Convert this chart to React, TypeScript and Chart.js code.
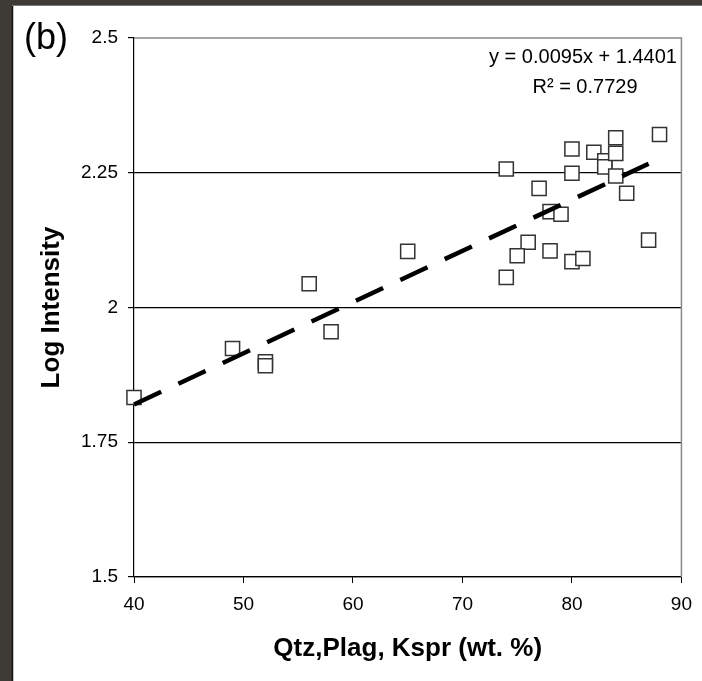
import React, { useEffect, useRef } from "react";
import { Chart, registerables } from "chart.js";

Chart.register(...registerables);

// Data
const xValues = [40, 49, 52, 52, 56, 58, 65, 74, 74, 77, 76, 75, 78, 79, 78, 80, 80, 80, 81, 82, 83, 83, 84, 84, 84, 85, 87, 88];
const yValues = [1.833, 1.924, 1.899, 1.892, 2.044, 1.955, 2.104, 2.257, 2.056, 2.221, 2.121, 2.096, 2.178, 2.173, 2.105, 2.294, 2.249, 2.085, 2.091, 2.288, 2.272, 2.261, 2.315, 2.286, 2.244, 2.212, 2.125, 2.321];

// Trend line (from the equation in the chart)
const trendSlope = 0.0095;
const trendIntercept = 1.4401;
const trendX = [40, 87];

const xTicks = [40, 50, 60, 70, 80, 90];
const yTicks = [1.5, 1.75, 2, 2.25, 2.5];

const equationText = "y = 0.0095x + 1.4401";
const r2Text = "R\u00B2 = 0.7729";
const panelLabel = "(b)";
const xTitle = "Qtz,Plag, Kspr (wt. %)";
const yTitle = "Log Intensity";

const FONT = "'Liberation Sans', Arial, sans-serif";

export default function App() {
  const ref = useRef<HTMLCanvasElement | null>(null);

  useEffect(() => {
    const canvas = ref.current;
    if (!canvas) return;

    const framePlugin = {
      id: "frame",
      beforeDraw(chart: any) {
        const ctx = chart.ctx;
        ctx.save();
        ctx.fillStyle = "#3e3a35";
        ctx.fillRect(0, 0, chart.width, chart.height);
        ctx.fillStyle = "#ffffff";
        ctx.fillRect(13, 5, chart.width - 13, chart.height - 5);
        ctx.strokeStyle = "#111";
        ctx.lineWidth = 1.5;
        ctx.beginPath();
        ctx.moveTo(12.5, 5);
        ctx.lineTo(12.5, chart.height);
        ctx.stroke();
        ctx.strokeStyle = "#777";
        ctx.lineWidth = 1;
        ctx.beginPath();
        ctx.moveTo(12, 5.5);
        ctx.lineTo(chart.width, 5.5);
        ctx.stroke();
        ctx.restore();
      },
      afterDraw(chart: any) {
        const ctx = chart.ctx;
        const a = chart.chartArea;
        ctx.save();
        ctx.strokeStyle = "#8a8a8a";
        ctx.lineWidth = 1.5;
        ctx.beginPath();
        ctx.moveTo(a.left, a.top);
        ctx.lineTo(a.right, a.top);
        ctx.lineTo(a.right, a.bottom);
        ctx.stroke();

        ctx.fillStyle = "#000";
        ctx.textAlign = "center";
        ctx.textBaseline = "middle";
        ctx.font = `20px ${FONT}`;
        ctx.fillText(equationText, 583, 57);
        ctx.fillText(r2Text, 585, 87);

        ctx.textAlign = "left";
        ctx.font = `36px ${FONT}`;
        ctx.fillText(panelLabel, 24, 39);
        ctx.restore();
      },
    };

    const chart = new Chart(canvas, {
      type: "scatter",
      data: {
        datasets: [
          {
            type: "line",
            label: "trend",
            data: trendX.map((x) => ({ x, y: trendSlope * x + trendIntercept })),
            borderColor: "#000",
            borderWidth: 4.5,
            borderDash: [30, 19],
            pointRadius: 0,
            fill: false,
            clip: false,
            order: 0,
          } as any,
          {
            label: "data",
            data: xValues.map((x, i) => ({ x, y: yValues[i] })),
            pointStyle: "rect",
            pointRadius: 10,
            pointBorderWidth: 1.5,
            pointBorderColor: "#333",
            pointBackgroundColor: "#fff",
            clip: false,
            order: 1,
          } as any,
        ],
      },
      options: {
        responsive: false,
        animation: false,
        events: [],
        layout: { padding: { left: 0, top: 38, right: 17, bottom: 0 } },
        plugins: {
          legend: { display: false },
          tooltip: { enabled: false },
        },
        scales: {
          x: {
            type: "linear",
            min: 40,
            max: 90,
            afterBuildTicks: (s: any) => {
              s.ticks = xTicks.map((v) => ({ value: v }));
            },
            afterFit: (s: any) => {
              s.height = 104;
            },
            ticks: {
              color: "#000",
              font: { family: FONT, size: 19 },
              padding: 10,
              callback: (v: any) => String(v),
            },
            grid: {
              drawOnChartArea: false,
              drawTicks: true,
              tickLength: 6,
              tickColor: "#000",
            },
            border: { display: true, color: "#000", width: 1.2 },
            title: {
              display: true,
              text: xTitle,
              color: "#000",
              font: { family: FONT, size: 26, weight: "bold" },
              padding: { top: 0, bottom: 17 },
            },
          },
          y: {
            type: "linear",
            min: 1.5,
            max: 2.5,
            afterBuildTicks: (s: any) => {
              s.ticks = yTicks.map((v) => ({ value: v }));
            },
            afterFit: (s: any) => {
              s.width = 134;
            },
            ticks: {
              color: "#000",
              font: { family: FONT, size: 19 },
              padding: 10,
              callback: (v: any) => String(v),
            },
            grid: {
              drawTicks: true,
              tickLength: 6,
              tickColor: "#000",
              lineWidth: 1.2,
              color: (c: any) => (c.tick && c.tick.value === 2.5 ? "rgba(0,0,0,0)" : "#000"),
            },
            border: { display: true, color: "#000", width: 1.2 },
            title: {
              display: true,
              text: yTitle,
              color: "#000",
              font: { family: FONT, size: 26, weight: "bold" },
              padding: { top: 36, bottom: 0 },
            },
          },
        },
      } as any,
      plugins: [framePlugin],
    });

    return () => chart.destroy();
  }, []);

  return (
    <div style={{ position: "fixed", left: 0, top: 0, width: 702, height: 681 }}>
      <canvas ref={ref} width={702} height={681} style={{ width: 702, height: 681, display: "block" }} />
    </div>
  );
}
